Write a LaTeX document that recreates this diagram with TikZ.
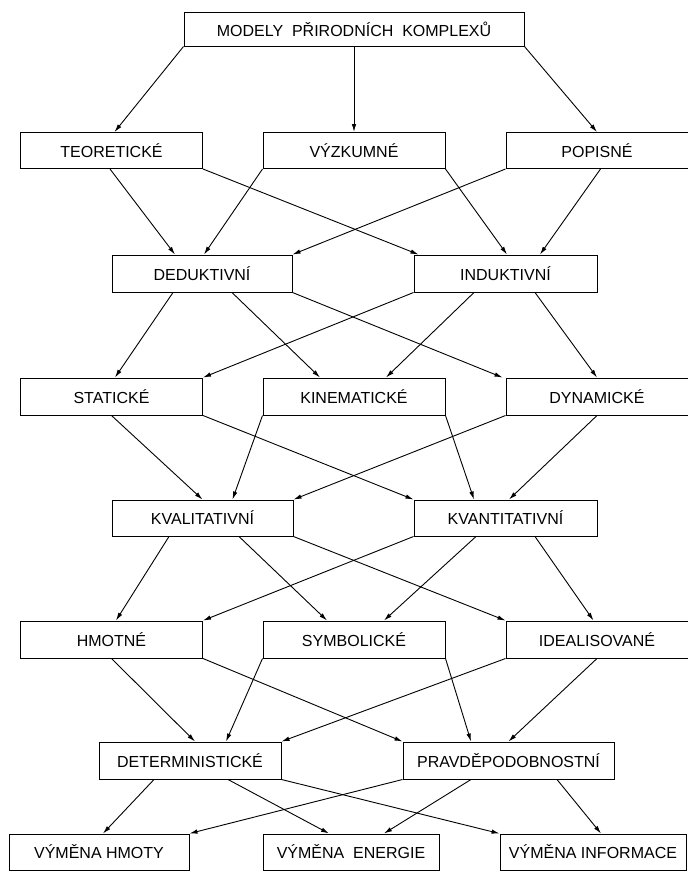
\documentclass[tikz,border=0pt]{standalone}
\usepackage{fontspec}
\setmainfont{Liberation Sans}
\usetikzlibrary{arrows.meta}
\begin{document}
\begin{tikzpicture}[x=1pt,y=-1pt,line width=.9pt,>={Latex[length=8pt,width=4.5pt]},
  box/.style={draw,line width=1pt,minimum width=182pt,minimum height=36pt,inner sep=0pt,font=\fontsize{16}{18}\selectfont}]
\useasboundingbox (0,0) rectangle (688,871);

% hlavni
\node[box,minimum width=340pt,minimum height=34pt] (top) at (354,29) {MODELY\ \ PŘIRODNÍCH\ \ KOMPLEXŮ};

% 1. rada
\node[box] (teor) at (111.5,150.5) {TEORETICKÉ};
\node[box] (vyzk) at (354,150.5) {VÝZKUMNÉ};
\node[box] (popis) at (597,150.5) {POPISNÉ};

\node[box,minimum width=180pt,minimum height=37pt] (ded) at (202,273.5) {DEDUKTIVNÍ};
\node[box,minimum width=183pt,minimum height=37pt] (ind) at (505.5,273.5) {INDUKTIVNÍ};

% 2. rada
\node[box,minimum height=37pt] (stat) at (111.5,396.5) {STATICKÉ};
\node[box,minimum height=37pt] (kin) at (354,396.5) {KINEMATICKÉ};
\node[box,minimum height=37pt] (dyn) at (597,396.5) {DYNAMICKÉ};

\node[box,minimum width=181pt] (kval) at (202.5,518) {KVALITATIVNÍ};
\node[box,minimum width=183pt] (kvant) at (505.5,518) {KVANTITATIVNÍ};

% 3. rada
\node[box,minimum height=37pt] (hmot) at (111.5,639.5) {HMOTNÉ};
\node[box,minimum height=37pt] (symb) at (354,639.5) {SYMBOLICKÉ};
\node[box,minimum height=37pt] (ideal) at (597,639.5) {IDEALISOVANÉ};

\node[box,minimum height=37pt] (det) at (190,760.5) {DETERMINISTICKÉ};
\node[box,minimum width=211pt,minimum height=37pt] (prav) at (508.5,760.5) {PRAVDĚPODOBNOSTNÍ};

% vymena
\node[box,minimum width=180pt] (vh) at (99,852) {VÝMĚNA\ HMOTY};
\node[box,minimum width=176pt] (ve) at (351,852) {VÝMĚNA\ \ ENERGIE};
\node[box,minimum width=186pt] (vi) at (593,852) {VÝMĚNA\ INFORMACE};

% sipky
\draw[->] (top.south west) -- ([xshift=3pt]teor.north);
\draw[->] (top.south) -- (vyzk.north);
\draw[->] (top.south east) -- (popis.north);

\draw[->] ([xshift=-1.5pt]teor.south) -- ([xshift=-27pt]ded.north);
\draw[->] (teor.south east) -- ([xshift=5pt]ind.north west);
\draw[->] (vyzk.south west) -- ([xshift=2pt]ded.north);
\draw[->] (vyzk.south east) -- ([xshift=1.5pt]ind.north);
\draw[->] (popis.south west) -- (ded.north east);
\draw[->] ([xshift=3.5pt]popis.south) -- ([xshift=34.5pt]ind.north);

\draw[->] ([xshift=-29pt]ded.south) -- ([xshift=3.5pt]stat.north);
\draw[->] ([xshift=30pt]ded.south) -- ([xshift=-34pt]kin.north);
\draw[->] (ded.south east) -- ([xshift=-3pt]dyn.north west);
\draw[->] (ind.south west) -- (stat.north east);
\draw[->] ([xshift=-31.5pt]ind.south) -- ([xshift=32pt]kin.north);
\draw[->] ([xshift=29.5pt]ind.south) -- (dyn.north);

\draw[->] (stat.south) -- (kval.north);
\draw[->] (stat.south east) -- (kvant.north west);
\draw[->] (kin.south west) -- ([xshift=30pt]kval.north);
\draw[->] (kin.south east) -- ([xshift=-31.5pt]kvant.north);
\draw[->] (dyn.south west) -- (kval.north east);
\draw[->] (dyn.south) -- ([xshift=3.5pt]kvant.north);

\draw[->] ([xshift=-33.5pt]kval.south) -- ([xshift=4.5pt]hmot.north);
\draw[->] ([xshift=36.5pt]kval.south) -- ([xshift=-27pt]symb.north);
\draw[->] (kval.south east) -- (ideal.north west);
\draw[->] (kvant.south west) -- (hmot.north east);
\draw[->] ([xshift=-29.5pt]kvant.south) -- ([xshift=30pt]symb.north);
\draw[->] ([xshift=29.5pt]kvant.south) -- ([xshift=-3.5pt]ideal.north);

\draw[->] (hmot.south) -- ([xshift=5pt]det.north);
\draw[->] (hmot.south east) -- (prav.north west);
\draw[->] (symb.south west) -- ([xshift=36pt]det.north);
\draw[->] (symb.south east) -- ([xshift=-37.5pt]prav.north);
\draw[->] (ideal.south west) -- (det.north east);
\draw[->] (ideal.south) -- (prav.north);

\draw[->] ([xshift=-36pt]det.south) -- ([xshift=4pt]vh.north);
\draw[->] ([xshift=38pt]det.south) -- ([xshift=-22pt]ve.north);
\draw[->] (det.south east) -- (vi.north west);
\draw[->] (prav.south west) -- (vh.north east);
\draw[->] ([xshift=-37.5pt]prav.south) -- ([xshift=33pt]ve.north);
\draw[->] ([xshift=48.5pt]prav.south) -- ([xshift=8pt]vi.north);
\end{tikzpicture}
\end{document}
